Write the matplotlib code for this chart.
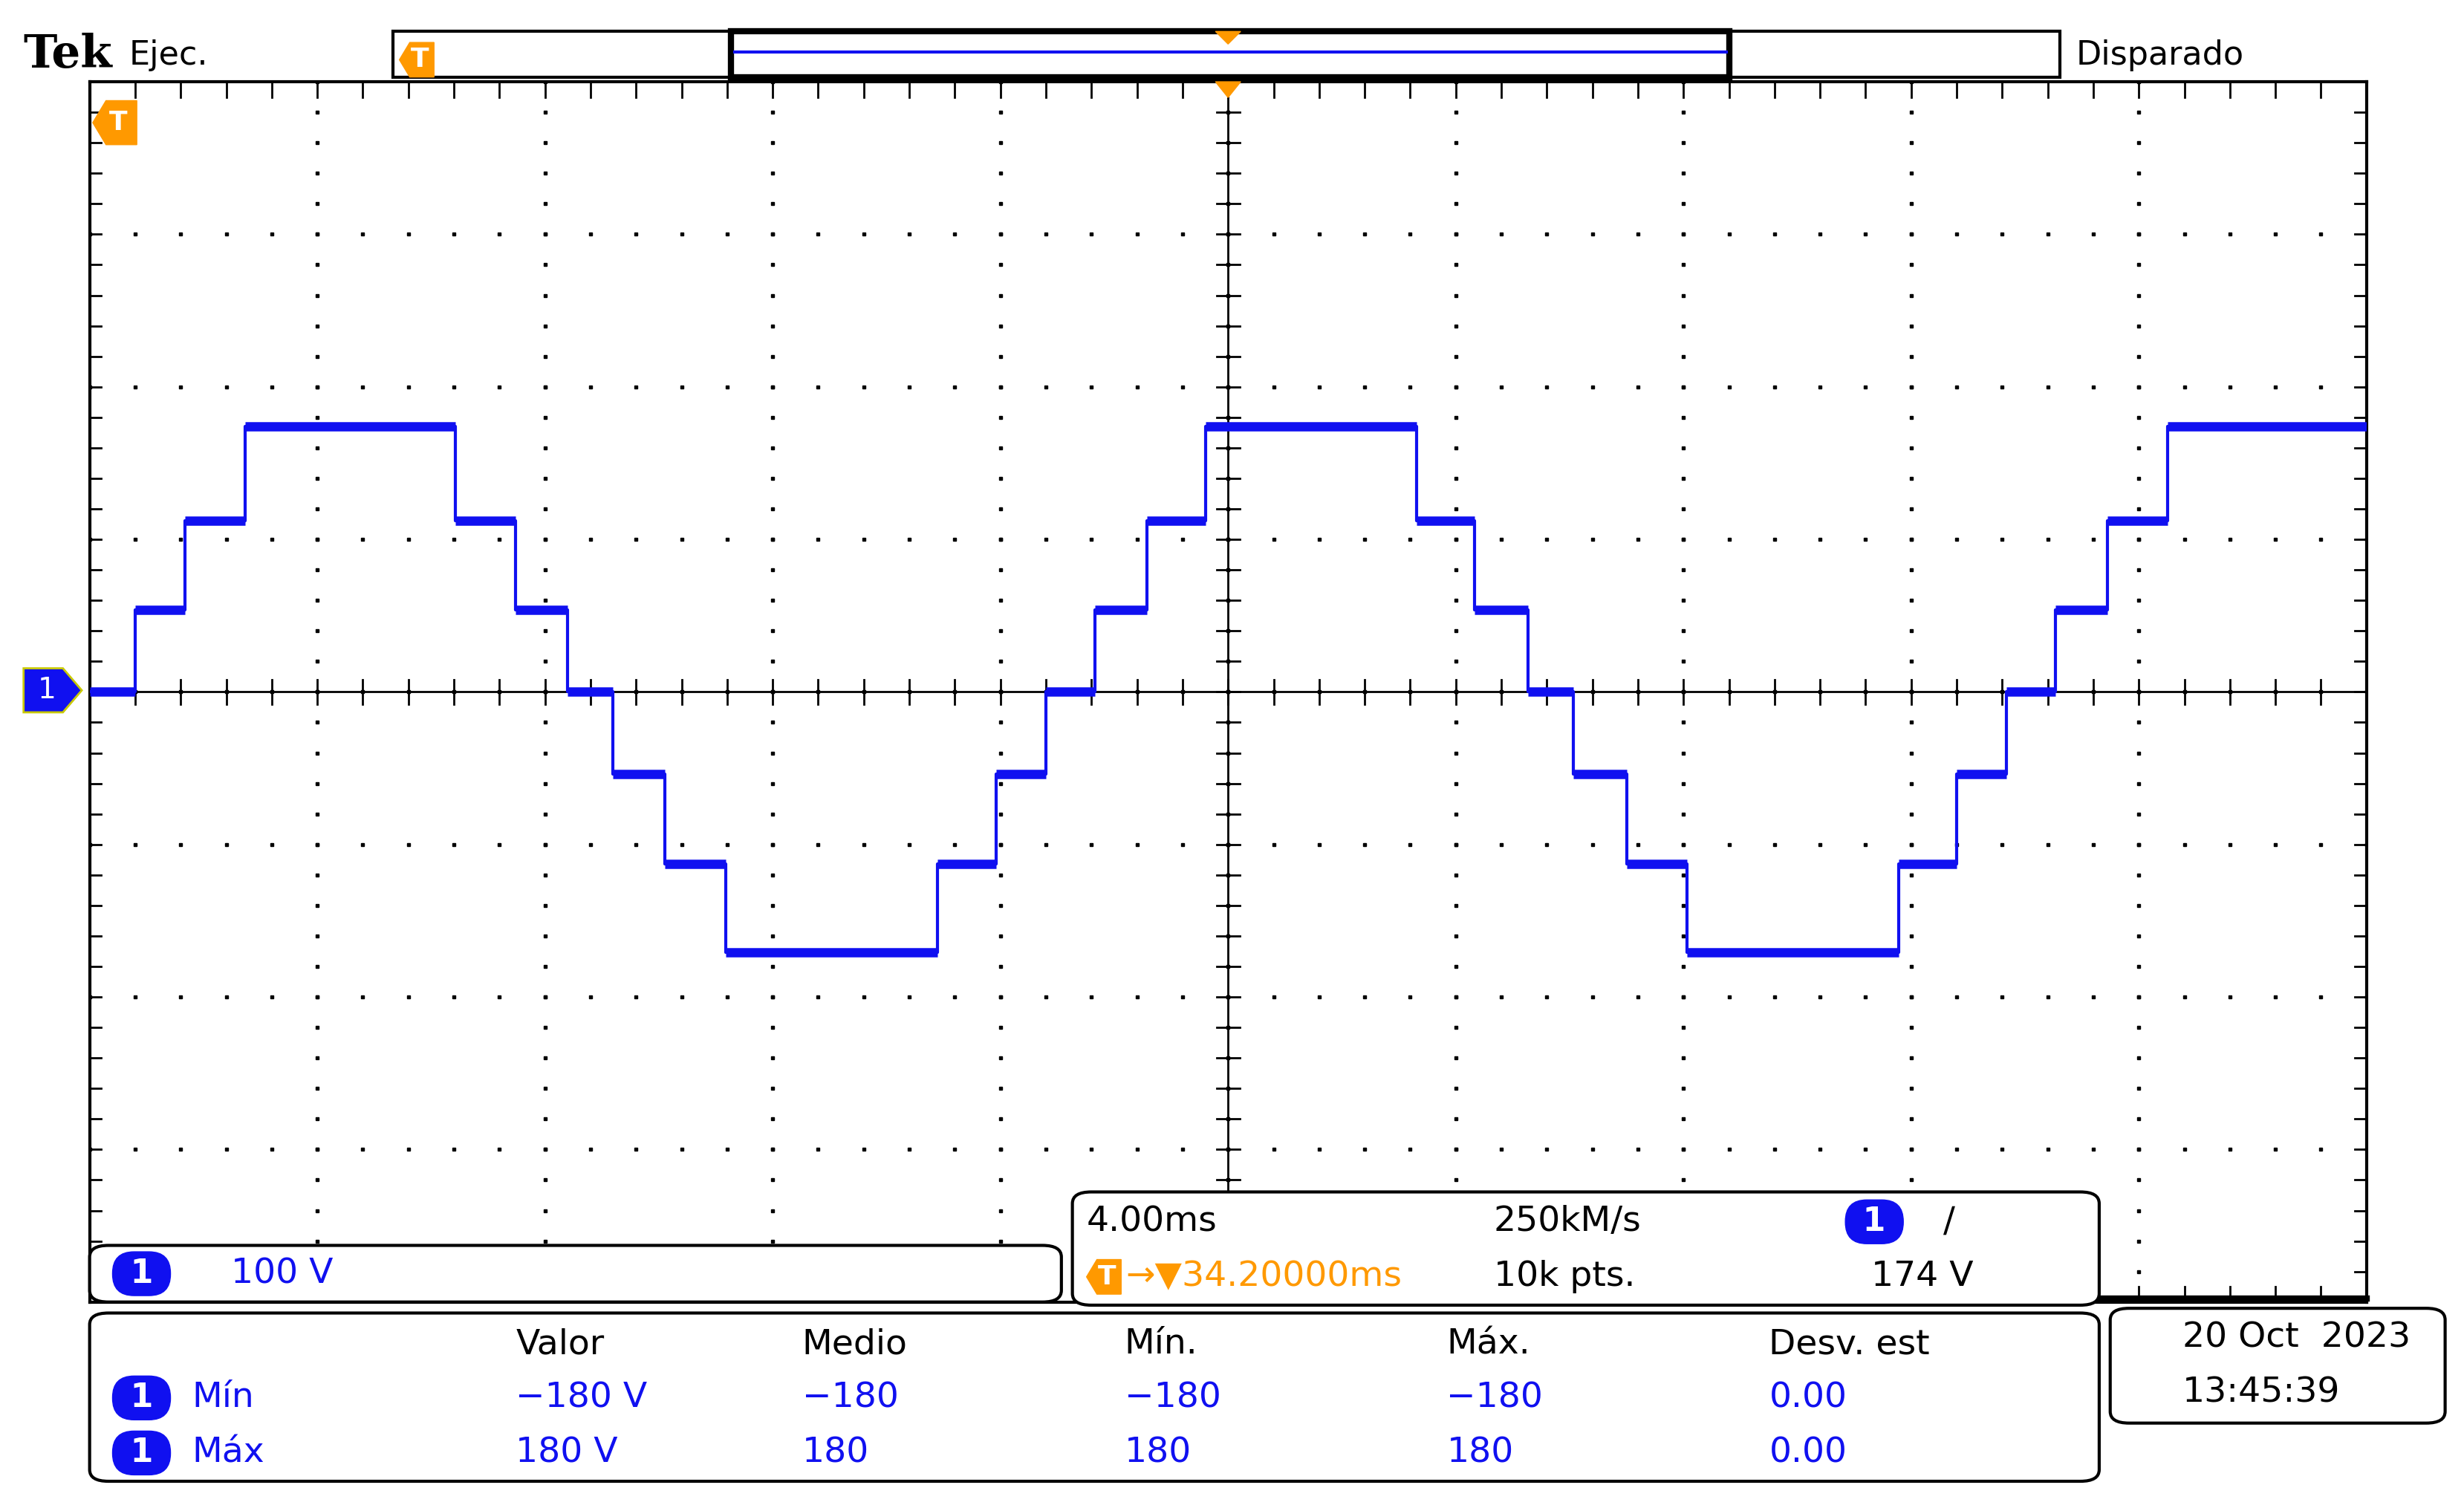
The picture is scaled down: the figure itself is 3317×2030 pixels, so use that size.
import matplotlib
matplotlib.use("Agg")
import matplotlib.pyplot as plt
from matplotlib.patches import FancyBboxPatch, Rectangle, Polygon
import numpy as np

# step transitions (ms, relative to trigger) and the level after each one (V)
edges_ms = [-20.0, -19.20, -18.32, -17.27, -13.57, -12.52, -11.61, -10.81, -9.90,
            -8.83, -5.10, -4.08, -3.20, -2.34, -1.43, -0.39, 3.31, 4.33, 5.27,
            6.07, 7.01, 8.06, 11.78, 12.80, 13.68, 14.54, 15.45, 16.50, 20.0]
levels_v = [0, 54, 112, 174, 112, 54, 0, -54, -113, -171, -113, -54, 0, 54, 112,
            174, 112, 54, 0, -54, -113, -171, -113, -54, 0, 54, 112, 174]

meas_cols = ["Valor", "Medio", "Mín.", "Máx.", "Desv. est"]
meas_min = ["\u2212180 V", "\u2212180", "\u2212180", "\u2212180", "0.00"]
meas_max = ["180 V", "180", "180", "180", "0.00"]

W, H = 3317, 2030
S = W / 1567.0          # reference was measured at ~1567 px width
BLUE = "#1010f0"
ORANGE = "#ff9900"
FONT = ["Liberation Sans Narrow", "DejaVu Sans"]
plt.rcParams["font.family"] = FONT

fig = plt.figure(figsize=(W / 100, H / 100), dpi=100)


def fx(x):
    return x * S / W


def fy(y):
    return 1 - y * S / H


def txt(x, y, s, color="black", size=34, **kw):
    fig.text(fx(x), fy(y), s, color=color, fontsize=size, va="center", ha="left", zorder=5, **kw)


def rbox(x0, y0, x1, y1, r=12, lw=3):
    fig.patches.append(FancyBboxPatch((fx(x0), fy(y1)), fx(x1) - fx(x0), fy(y0) - fy(y1),
                                      boxstyle=f"round,pad=0,rounding_size={r * S / W}",
                                      transform=fig.transFigure, fc="white", ec="black",
                                      lw=lw, zorder=2))


def pill(x, y):
    fig.text(fx(x), fy(y), " 1 ", color="white", fontsize=32, ha="center", va="center",
             weight="bold", zorder=6,
             bbox=dict(boxstyle="round,pad=0.18,rounding_size=0.65", fc=BLUE, ec=BLUE))


def tmark(x, y, sz=14):
    pts = [(x - sz, y), (x - sz * 0.4, y - sz), (x + sz, y - sz), (x + sz, y + sz), (x - sz * 0.4, y + sz)]
    fig.patches.append(Polygon([(fx(a), fy(b)) for a, b in pts], closed=True,
                               transform=fig.transFigure, fc=ORANGE, ec=ORANGE, zorder=5))
    fig.text(fx(x + 2), fy(y), "T", color="white", fontsize=26, ha="center", va="center",
             weight="bold", zorder=6)


# scope graticule
ax = fig.add_axes([fx(57), fy(828), fx(1505) - fx(57), fy(52) - fy(828)])
ax.set_xlim(-20, 20)
ax.set_ylim(-400, 400)
ax.set_xticks([])
ax.set_yticks([])
for sp in ax.spines.values():
    sp.set_linewidth(3)

dx = np.arange(-20, 20.01, 0.8)
dy = np.arange(-400, 400.1, 20)
for gx in np.arange(-16, 17, 4):
    ax.plot(np.full_like(dy, gx), dy, ls="none", marker="s", ms=3, color="black")
for gy in np.arange(-300, 301, 100):
    ax.plot(dx, np.full_like(dx, gy), ls="none", marker="s", ms=3, color="black")
ax.axhline(0, color="black", lw=2)
ax.axvline(0, color="black", lw=2)
for t in dx:
    ax.plot([t, t], [-8, 8], color="black", lw=2)
    ax.plot([t, t], [400, 390], color="black", lw=2)
    ax.plot([t, t], [-400, -390], color="black", lw=2)
for v in dy:
    ax.plot([-0.2, 0.2], [v, v], color="black", lw=2)
    ax.plot([-20, -19.8], [v, v], color="black", lw=2)
    ax.plot([20, 19.8], [v, v], color="black", lw=2)

# trace
ax.step(edges_ms[:-1] + [edges_ms[-1]], levels_v + [levels_v[-1]], where="post",
        color=BLUE, lw=3, zorder=5)
ax.hlines(levels_v, edges_ms[:-1], edges_ms[1:], color=BLUE, lw=9, zorder=5)

# header
fig.text(fx(15), fy(35), "Tek", fontsize=44, weight="bold", family="DejaVu Serif",
         va="center", ha="left")
txt(82, 35, "Ejec.", size=32)
txt(1320, 35, "Disparado", size=32)
fig.patches.append(Rectangle((fx(250), fy(49)), fx(1310) - fx(250), fy(20) - fy(49),
                             transform=fig.transFigure, fill=False, ec="black", lw=3))
fig.patches.append(Rectangle((fx(465), fy(49)), fx(1100) - fx(465), fy(20) - fy(49),
                             transform=fig.transFigure, fill=False, ec="black", lw=6))
fig.lines.append(plt.Line2D([fx(467), fx(1098)], [fy(33), fy(33)], color=BLUE, lw=3,
                            transform=fig.transFigure))
for yy, d in ((20, 8), (52, 10)):
    fig.patches.append(Polygon([(fx(773), fy(yy)), (fx(789), fy(yy)), (fx(781), fy(yy + d))],
                               transform=fig.transFigure, fc=ORANGE, ec=ORANGE, zorder=5))
tmark(265, 38, 11)
tmark(73, 78, 14)

# channel ground marker
fig.patches.append(Polygon([(fx(15), fy(425)), (fx(40), fy(425)), (fx(52), fy(439)),
                            (fx(40), fy(453)), (fx(15), fy(453))],
                           transform=fig.transFigure, fc=BLUE, ec="#c8c800", lw=2))
fig.text(fx(30), fy(439), "1", color="white", fontsize=28, ha="center", va="center")

# bottom boxes
rbox(57, 792, 675, 828)
pill(90, 810)
txt(147, 810, "100 V", color=BLUE)

fig.lines.append(plt.Line2D([fx(1335), fx(1505)], [fy(826), fy(826)], color="black", lw=6,
                            transform=fig.transFigure))
rbox(682, 758, 1335, 830)
txt(691, 777, "4.00ms")
txt(950, 777, "250kM/s")
pill(1192, 777)
txt(1236, 777, "\u2215")
tmark(702, 812, 11)
txt(716, 812, "\u2192\u25bc34.20000ms", color=ORANGE)
txt(950, 812, "10k pts.")
txt(1190, 812, "174 V")

rbox(57, 835, 1335, 942)
col_x = [328, 510, 715, 920, 1125]
for cx, name, a, b in zip(col_x, meas_cols, meas_min, meas_max):
    txt(cx, 855, name)
    txt(cx, 889, a, color=BLUE)
    txt(cx, 924, b, color=BLUE)
pill(90, 889)
txt(122, 889, "Mín", color=BLUE)
pill(90, 924)
txt(122, 924, "Máx", color=BLUE)

rbox(1342, 832, 1555, 905)
txt(1388, 851, "20 Oct  2023")
txt(1388, 886, "13:45:39")

fig.savefig("out.png", dpi=100)
